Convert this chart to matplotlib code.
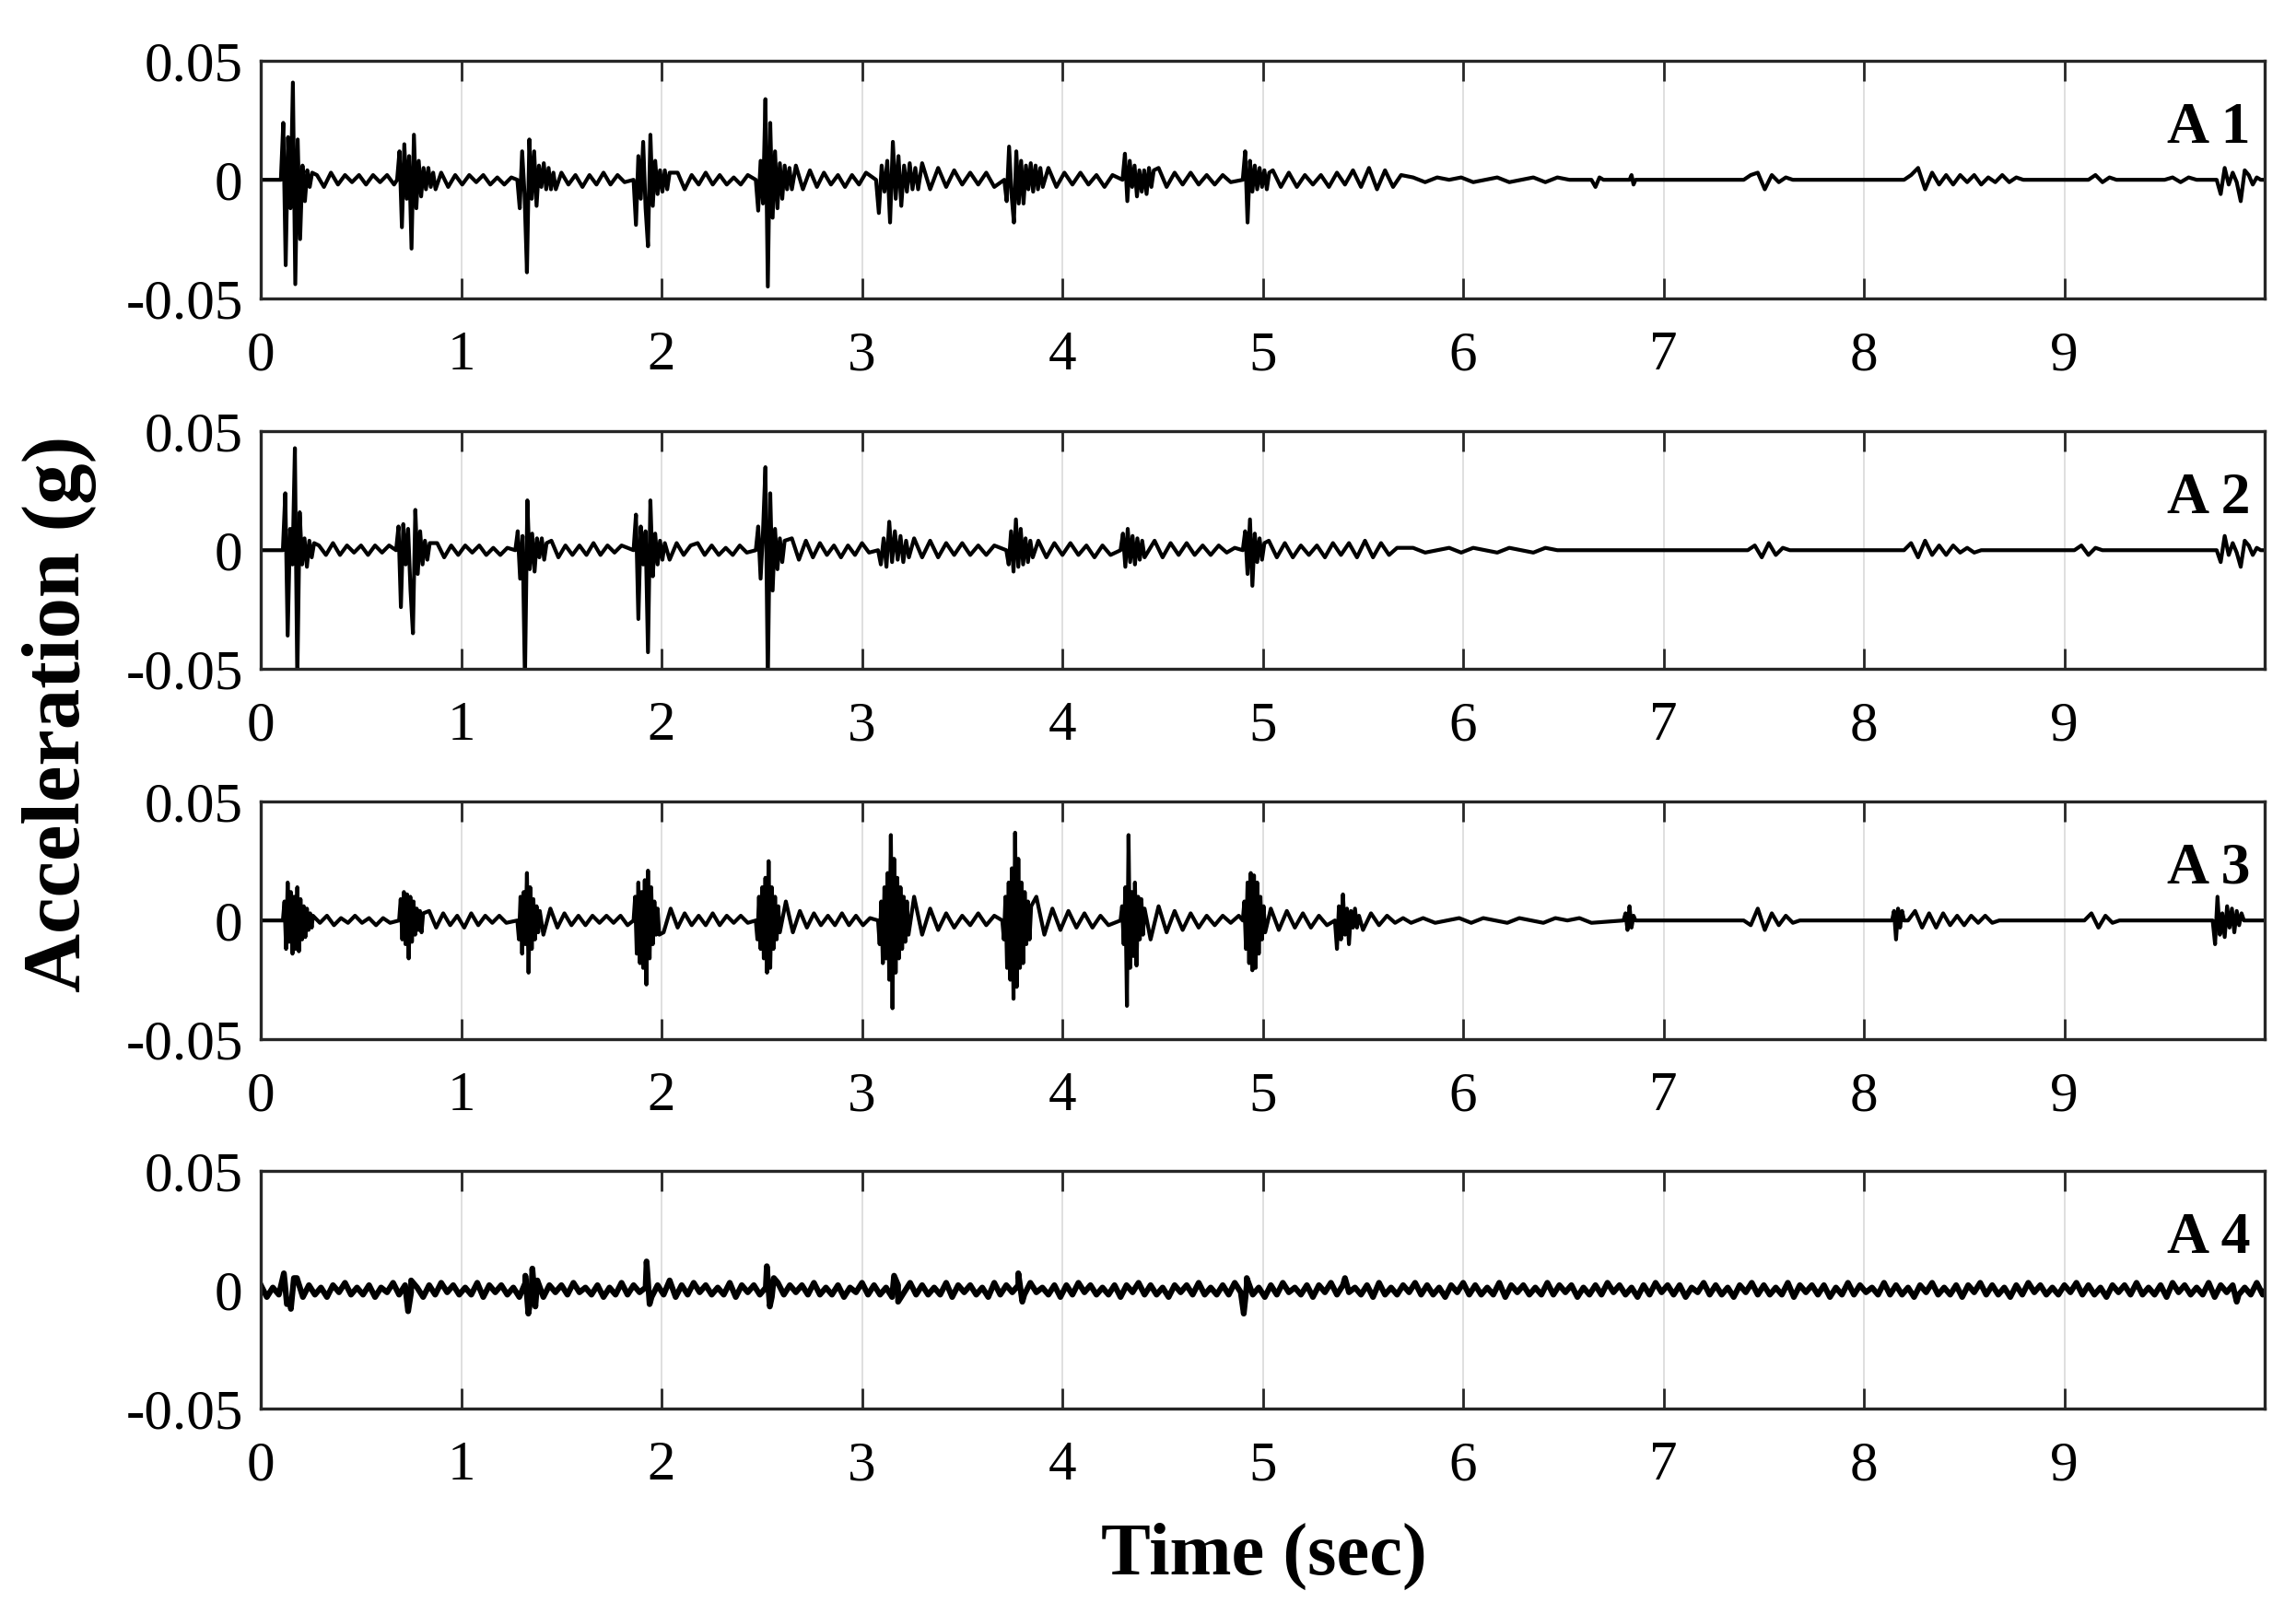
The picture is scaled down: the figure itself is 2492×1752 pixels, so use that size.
import matplotlib.pyplot as plt
import numpy as np

plt.rcParams['font.family'] = ['Liberation Serif', 'DejaVu Serif']

# accelerometer records, values in mg (1e-3 g)
# each piece: (start time [s], sample step [s], amplitudes [mg])
A1_segments = [
    (0.10, 0.012, [0, 24, -36, 18, -12, 41, -44, 17, -25, 6, -9, 4, -3, 3]),
    (0.28, 0.035, [2, -3, 3, -2, 2, -1, 2, -2, 2, -1, 2, -2]),
    (0.68, 0.012, [0, 12, -20, 15, -8, 10, -29, 19, -12, 8, -7, 5, -4, 5, -3, 3, -4]),
    (0.90, 0.035, [3, -3, 2, -2, 2, -1, 2, -2, 1, -2, 1]),
    (1.28, 0.012, [0, -12, 12, -6, -39, 17, -8, 12, -11, 6, -3, 7, -4, 5, -4, 3, -4]),
    (1.50, 0.035, [3, -2, 2, -3, 2, -2, 3, -2, 2, -1]),
    (1.86, 0.012, [0, -19, 10, -8, 16, -12, -28, 19, -11, 8, -6, 4, -5, 4, -4, 3]),
    (2.08, 0.035, [3, -4, 2, -2, 3, -2, 2, -2, 1, -2, 2]),
    (2.47, 0.012, [0, -13, 8, -10, 34, -45, 24, -16, 12, -12, 7, -8, 6, -4, 5, -4]),
    (2.67, 0.035, [6, -4, 4, -3, 3, -2, 2, -3, 2, -2, 3]),
    (3.07, 0.014, [0, -14, 6, -5, 8, -18, 16, -8, 10, -11, 6, -5, 7, -4, 5, -4]),
    (3.30, 0.040, [7, -4, 5, -3, 4, -2, 3, -2, 3, -3]),
    (3.71, 0.012, [0, -9, 14, -6, -18, 12, -10, 8, -10, 6, -4, 7, -5, 6, -4, 5, -3]),
    (3.93, 0.040, [5, -3, 3, -2, 3, -2, 2, -3, 2]),
    (4.30, 0.012, [0, 11, -9, 8, -3, 6, -7, 4, -5, 4, -6, 5, -3, 4]),
    (4.48, 0.040, [5, -3, 3, -2, 3, -2, 2, -2, 2, -1]),
    (4.90, 0.012, [0, 12, -18, 8, -5, 6, -4, 5, -3, 4, -4, 3]),
    (5.05, 0.040, [4, -3, 3, -3, 2, -2, 2, -3, 3, -2, 4, -3, 5, -4, 4, -3, 2]),
    (5.75, 0.060, [1, -1, 1, 0, 1, -1, 0, 1, -1, 0, 1, -1, 1, 0]),
    (6.64, 0.020, [0, -3, 1, 0]),
    (6.83, 0.010, [0, 2, -2, 0]),
    (7.40, 0.035, [0, 2, 3, -4, 2, -1, 1, 0]),
    (8.20, 0.035, [0, 2, 5, -4, 3, -2, 2, -2, 2, -1, 2, -2, 1, -1, 2, -1, 1, 0]),
    (9.12, 0.035, [0, 2, -1, 1, 0]),
    (9.50, 0.040, [0, 1, -1, 1, 0]),
    (9.76, 0.020, [0, -6, 5, -2, 3, -1, -9, 4, 2, -2, 1, 0]),
]

A2_segments = [
    (0.11, 0.012, [0, 24, -36, 9, -6, 43, -55, 16, -6, 5, -7, 4, -3, 3]),
    (0.29, 0.035, [2, -2, 3, -2, 2, -1, 2, -2, 2, -1, 2]),
    (0.675, 0.012, [0, 10, -24, 11, -6, 9, -17, -35, 17, -10, 8, -6, 4, -4, 3]),
    (0.88, 0.035, [3, -3, 2, -2, 2, -1, 2, -2, 1, -2, 1]),
    (1.27, 0.012, [0, 8, -12, 6, -55, 21, -8, 7, -9, 5, -3, 5, -4, 3]),
    (1.45, 0.035, [4, -3, 2, -2, 2, -2, 3, -2, 2, -1, 2]),
    (1.86, 0.012, [0, 15, -29, 10, -6, 8, -43, 21, -11, 7, -6, 4, -4, 3]),
    (2.04, 0.035, [-4, 3, -2, 2, 3, -2, 2, -2, 1, -2, 2, -1]),
    (2.47, 0.012, [0, 10, -12, 8, 35, -55, 24, -17, 9, -8, 5, -5, 4]),
    (2.65, 0.035, [5, -4, 4, -3, 3, -2, 2, -3, 2, -2, 3, -1]),
    (3.08, 0.014, [0, -6, 5, -7, 12, -5, 8, -4, 6, -5, 4, -3]),
    (3.26, 0.040, [5, -3, 4, -3, 3, -2, 3, -2, 2, -2, 2]),
    (3.72, 0.012, [0, -6, 8, -9, 13, -7, 9, -6, 5, -5, 4, -3]),
    (3.88, 0.040, [4, -3, 3, -2, 3, -2, 2, -3, 2, -2]),
    (4.29, 0.012, [0, 7, -7, 9, -5, 6, -6, 5, -4, 4, -3]),
    (4.46, 0.040, [4, -3, 3, -2, 3, -2, 2, -2, 2, -1, 1]),
    (4.90, 0.012, [0, 8, -10, 13, -15, 7, -5, 5, -4, 3]),
    (5.03, 0.040, [4, -3, 3, -3, 2, -2, 2, -3, 3, -2, 3, -3, 4, -3, 3, -2, 1]),
    (5.75, 0.060, [1, -1, 0, 1, -1, 1, 0, -1, 1, 0, -1, 1, 0]),
    (7.42, 0.035, [0, 2, -3, 3, -2, 1, 0]),
    (8.20, 0.035, [0, 3, -3, 4, -2, 2, -2, 2, -1, 1, -1, 0]),
    (9.05, 0.035, [0, 2, -2, 1, 0]),
    (9.76, 0.020, [0, -5, 6, -2, 3, -1, -7, 4, 2, -2, 1, 0]),
]

A3_segments = [
    (0.11, 0.008, [0, 8, -12, 16, -9, 12, -14, 10, -12, 14, -13, 9, -8, 6, -7, 5, -4, 3, -3]),
    (0.26, 0.035, [2, -1, 2, -2, 1, -1, 2, -1, 1, -2, 1, -1]),
    (0.69, 0.008, [0, 9, -8, 12, -10, 11, -16, 10, -9, 8, -6, 5, -4, 4, -5, 3]),
    (0.84, 0.035, [4, -3, 3, -2, 2, -3, 3, -2, 2, -1, 2, -1]),
    (1.28, 0.008, [0, -8, 10, -14, 12, -10, 20, -22, 14, -12, 9, -8, 6, -5, 4]),
    (1.41, 0.035, [-6, 5, -3, 3, -2, 2, -2, 2, -1, 2, -1, 2, -2]),
    (1.86, 0.008, [0, 10, -14, 16, -18, 12, -20, 17, -27, 21, -16, 14, -10, 8, -6, 5, -6]),
    (2.01, 0.035, [-5, 5, -3, 3, -2, 2, -2, 3, -2, 2, -1, 2, -1]),
    (2.47, 0.008, [0, -8, 10, -12, 14, -16, 18, -22, 25, -20, 14, -12, 10, -8, 6, -5]),
    (2.62, 0.035, [8, -5, 4, -3, 3, -2, 2, -2, 3, -2, 2, -2, 1]),
    (3.08, 0.008, [0, -10, 8, -18, 14, -16, 20, -25, 36, -37, 26, -22, 18, -16, 14, -12, 10, -9, 8, -6]),
    (3.26, 0.040, [10, -6, 5, -4, 3, -3, 2, -2, 3, -2, 2]),
    (3.70, 0.008, [0, -8, 10, -20, 16, -25, 22, -33, 37, -28, 26, -20, 16, -18, 12, -10, 8, -8, 6]),
    (3.87, 0.040, [10, -6, 5, -4, 4, -3, 3, -3, 2, -2]),
    (4.29, 0.008, [0, 6, -10, 14, -36, 36, -20, 12, -15, 16, -19, 10, -8, 9, -6, 5]),
    (4.44, 0.040, [-8, 6, -5, 4, -4, 3, -3, 2, -2, 2, -1, 2]),
    (4.90, 0.008, [0, 8, -12, 16, -18, 20, -21, 19, -20, 16, -14, 10, -8, 6, -5]),
    (5.04, 0.040, [5, -4, 4, -3, 3, -3, 2, -2]),
    (5.36, 0.010, [0, -12, 6, -8, 11, -6, 5, -10, 4, -3, 5, -3, 2]),
    (5.50, 0.040, [-4, 3, -2, 2, -1, 1, -1]),
    (5.80, 0.060, [1, -1, 0, 1, -1, 1, 0, -1, 1, 0, -1, 1, 0, 1, -1]),
    (6.80, 0.010, [0, 3, -4, 6, -3, 2, 0]),
    (7.40, 0.035, [0, -2, 5, -4, 3, -2, 2, -1, 0]),
    (8.14, 0.010, [0, 4, -8, 5, -3, 4, 0]),
    (8.22, 0.035, [0, 4, -3, 3, -3, 3, -2, 2, -2, 2, -1, 2, -1, 0]),
    (9.10, 0.035, [0, 3, -3, 2, -1, 0]),
    (9.74, 0.012, [0, -10, 10, -6, 3, -7, 6, -3, 5, -5, 4, -2, 3, 0]),
]

# A4: broadband floor sampled every 0.03 s plus the few spikes on top of it
A4_floor_step = 0.03
A4_floor = [
    2, -3, 1, -2, 3, -4, 5, -3, 2, -2, 1, -3, 2, -1, 3, -2, 1, -2, 2, -3,
    1, -1, 3, -2, 2, -1, 1, -3, 2, -2, 3, -1, 2, -2, 1, -2, 3, -3, 2, -1,
    2, -2, 1, -3, 3, -2, 4, -3, 2, -1, 2, -2, 3, -1, 1, -2, 2, -3, 1, -2,
    3, -2, 2, -1, 1, -3, 2, -2, 4, -3, 2, -2, 3, -1, 2, -2, 1, -2, 3, -3,
    2, -1, 2, -2, 1, -3, 3, -2, 2, -1, 2, -2, 3, -2, 1, -2, 2, -3, 1, -1,
    3, -2, 2, -2, 1, -3, 2, -1, 3, -2, 2, -2, 1, -2, 3, -3, 2, -1, 2, -2,
    1, -3, 3, -2, 2, -1, 2, -2, 3, -1, 1, -2, 2, -3, 2, -2, 3, -1, 2, -2,
    1, -2, 2, -3, 2, -1, 3, -2, 2, -2, 1, -3, 2, -1, 2, -2, 3, -2, 1, -2,
    2, -2, 3, -1, 2, -2, 1, -3, 2, -2, 3, -1, 1, -2, 2, -3, 2, -1, 3, -2,
    2, -1, 1, -2, 2, -3, 3, -2, 1, -2, 2, -1, 3, -2, 2, -2, 1, -3, 2, -1,
    3, -2, 2, -2, 1, -2, 3, -3, 2, -1, 2, -2, 1, -2, 3, -2, 2, -1, 2, -3,
    1, -2, 2, -2, 3, -1, 2, -2, 1, -3, 2, -2, 3, -1, 2, -2, 2, -3, 1, -1,
    3, -2, 2, -2, 1, -3, 2, -1, 3, -2, 2, -2, 1, -2, 3, -3, 2, -1, 2, -2,
    2, -3, 1, -2, 3, -2, 2, -1, 1, -2, 3, -2, 2, -2, 1, -3, 2, -1, 3, -2,
    1, -2, 2, -3, 2, -1, 3, -2, 2, -2, 1, -3, 2, -2, 3, -1, 2, -2, 1, -2,
    2, -1, 3, -2, 2, -2, 1, -3, 2, -1, 2, -2, 3, -2, 1, -2, 2, -3, 3, -1,
    2, -2, 1, -2, 3, -3, 2, -1, 2, -2, 1, -2, 3, -2, 2, -3, 1, -1, 2, 0,
]
A4_spike_t = [0.115, 0.13, 0.15, 0.165, 0.735, 0.75, 1.32, 1.335, 1.355, 1.37,
              1.925, 1.94, 2.525, 2.54, 2.56, 3.16, 3.18, 3.78, 3.80, 4.905,
              4.92, 5.41, 9.86]
A4_spike_a = [7, -6, -8, 5, -9, 4, 6, -10, 9, -7,
              12, -6, 10, -7, 5, 6, -5, 7, -5, -10,
              5, 5, -5]

channel_names = ['A 1', 'A 2', 'A 3', 'A 4']
x_ticks = [0, 1, 2, 3, 4, 5, 6, 7, 8, 9]
y_ticks = [-0.05, 0, 0.05]
y_tick_labels = ['-0.05', '0', '0.05']


def build_trace(segments):
    """Join the pieces into one time series (s, g)."""
    t = [0.0]
    a = [0.0]
    for t0, dt, vals in segments:
        t.extend(t0 + dt * np.arange(len(vals)))
        a.extend(vals)
    t.append(10.0)
    a.append(0.0)
    return np.array(t), np.array(a) / 1000.0


def build_floor_trace(step, floor, spike_t, spike_a):
    t = np.concatenate([step * np.arange(len(floor)), spike_t])
    a = np.concatenate([floor, spike_a])
    order = np.argsort(t, kind='stable')
    return t[order], a[order] / 1000.0


traces = [build_trace(A1_segments),
          build_trace(A2_segments),
          build_trace(A3_segments),
          build_floor_trace(A4_floor_step, A4_floor, A4_spike_t, A4_spike_a)]
line_widths = [3.0, 3.0, 3.0, 4.5]

fig = plt.figure(figsize=(24.92, 17.52), dpi=100)

left, width, height = 0.1136, 0.8728, 0.147
bottoms = [0.8151, 0.5856, 0.3562, 0.1273]

for (t, a), name, b, lw in zip(traces, channel_names, bottoms, line_widths):
    ax = fig.add_axes([left, b, width, height])
    ax.plot(t, a, color='black', lw=lw)
    ax.set_xlim(0, 10)
    ax.set_ylim(-0.05, 0.05)
    ax.set_xticks(x_ticks)
    ax.set_xticklabels([str(v) for v in x_ticks])
    ax.set_yticks(y_ticks)
    ax.set_yticklabels(y_tick_labels)
    ax.grid(axis='x', color='#d9d9d9', lw=1.2)
    ax.set_axisbelow(True)
    ax.tick_params(axis='x', direction='in', top=True, bottom=True,
                   length=16, width=2.0, color='#262626', labelsize=44, pad=25)
    ax.tick_params(axis='y', length=0, labelsize=44, pad=14)
    for s in ax.spines.values():
        s.set_linewidth(2.4)
        s.set_color('#262626')
    ax.text(0.993, 0.715, name, transform=ax.transAxes, ha='right', va='center',
            fontsize=46, fontweight='bold')

fig.text(0.5504, 0.036, 'Time (sec)', ha='center', va='center',
         fontsize=58, fontweight='bold')
fig.text(0.026, 0.558, 'Acceleration (g)', ha='center', va='center',
         rotation=90, fontsize=64, fontweight='bold')

fig.savefig('out.png', dpi=100)
